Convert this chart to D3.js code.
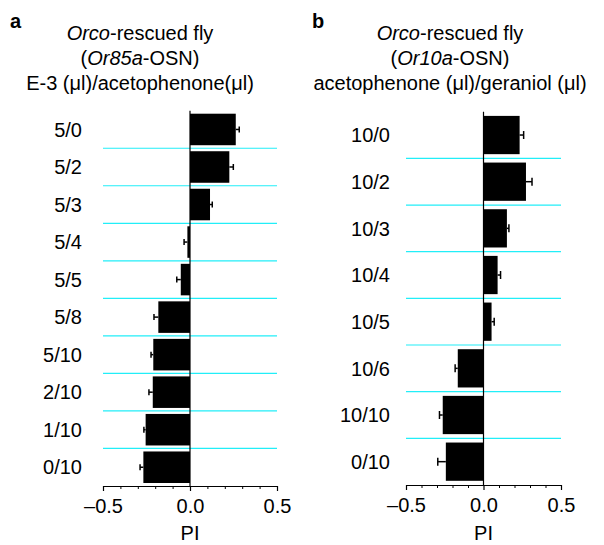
<!DOCTYPE html>
<html>
<head>
<meta charset="utf-8">
<script src="https://cdn.jsdelivr.net/npm/d3@7"></script>
<style>
  body { margin: 0; background: #fff; }
  svg { font-family: "Liberation Sans", Arial, Helvetica, sans-serif; }
</style>
</head>
<body>
<div id="container"></div>
<script>
// data
const catsA = ['5/0', '5/2', '5/3', '5/4', '5/5', '5/8', '5/10', '2/10', '1/10', '0/10'];
const piA = [0.263, 0.226, 0.115, -0.015, -0.053, -0.182, -0.211, -0.214, -0.255, -0.268];
const seA = [0.020, 0.023, 0.013, 0.019, 0.023, 0.025, 0.013, 0.022, 0.010, 0.019];

const catsB = ['10/0', '10/2', '10/3', '10/4', '10/5', '10/6', '10/10', '0/10'];
const piB = [0.233, 0.274, 0.151, 0.091, 0.052, -0.166, -0.263, -0.243];
const seB = [0.026, 0.039, 0.013, 0.019, 0.017, 0.017, 0.021, 0.052];

const xTicks = [-0.5, 0, 0.5];
const xMinor = [-0.4, -0.3, -0.2, -0.1, 0.1, 0.2, 0.3, 0.4];

const svg = d3.select('#container').append('svg')
    .attr('width', 604)
    .attr('height', 545);

//draw one panel
function drawPanel(p) {
    const x = d3.scaleLinear().domain([-0.5, 0.5]).range(p.xRange);
    const y = d3.scaleBand().domain(p.cats).range(p.yRange)
        .paddingInner(p.pad).paddingOuter(p.pad / 2);
    const g = svg.append('g');

    // panel letter
    g.append('text')
        .attr('x', p.letterX).attr('y', 28)
        .attr('font-size', 20).attr('font-weight', 'bold')
        .text(p.letter);

    // title
    p.title.forEach((line, i) => {
        const t = g.append('text')
            .attr('x', p.titleX).attr('y', 40 + i * 25)
            .attr('text-anchor', 'middle')
            .attr('font-size', p.titleSize);
        line.forEach(seg => {
            t.append('tspan')
                .attr('font-style', seg[1] ? 'italic' : 'normal')
                .text(seg[0]);
        });
    });

    // cyan separators
    g.selectAll('.sep')
        .data(p.cats.slice(1))
        .enter().append('line')
        .attr('x1', p.xRange[0]).attr('x2', p.xRange[1])
        .attr('y1', d => y(d) + y.bandwidth() / 2 - y.step() / 2)
        .attr('y2', d => y(d) + y.bandwidth() / 2 - y.step() / 2)
        .attr('stroke', '#22eef8')
        .attr('stroke-width', 1.2);

    const rows = p.cats.map((c, i) => ({ c: c, v: p.pi[i], se: p.se[i] }));

    // bars
    g.selectAll('.bar')
        .data(rows)
        .enter().append('rect')
        .attr('x', d => x(Math.min(0, d.v)))
        .attr('width', d => Math.abs(x(d.v) - x(0)))
        .attr('y', d => y(d.c))
        .attr('height', y.bandwidth())
        .attr('fill', '#000');

    // error bars (outward only)
    const eb = g.selectAll('.err')
        .data(rows)
        .enter().append('g');
    eb.append('line')
        .attr('x1', d => x(d.v))
        .attr('x2', d => x(d.v + Math.sign(d.v) * d.se))
        .attr('y1', d => y(d.c) + y.bandwidth() / 2)
        .attr('y2', d => y(d.c) + y.bandwidth() / 2)
        .attr('stroke', '#000').attr('stroke-width', 1.5);
    eb.append('line')
        .attr('x1', d => x(d.v + Math.sign(d.v) * d.se))
        .attr('x2', d => x(d.v + Math.sign(d.v) * d.se))
        .attr('y1', d => y(d.c) + y.bandwidth() / 2 - p.cap)
        .attr('y2', d => y(d.c) + y.bandwidth() / 2 + p.cap)
        .attr('stroke', '#000').attr('stroke-width', 1.5);

    // zero line
    g.append('line')
        .attr('x1', x(0)).attr('x2', x(0))
        .attr('y1', p.yRange[0]).attr('y2', p.yRange[1])
        .attr('stroke', '#000').attr('stroke-width', 1.2);

    // category labels
    g.selectAll('.cat')
        .data(p.cats)
        .enter().append('text')
        .attr('x', p.labelX)
        .attr('y', d => y(d) + y.bandwidth() / 2)
        .attr('dy', '0.36em')
        .attr('text-anchor', 'end')
        .attr('font-size', p.catSize)
        .text(d => d);

    // x axis
    const ax = g.append('g')
        .attr('transform', `translate(0,${p.yRange[1]})`)
        .call(d3.axisBottom(x)
            .tickValues(xTicks)
            .tickSize(5)
            .tickSizeOuter(0)
            .tickPadding(8)
            .tickFormat(d => d3.format('.1f')(d).replace('−', '–').replace('-', '–')));
    ax.select('.domain').attr('stroke-width', 1.2);
    ax.selectAll('.tick line').attr('stroke-width', 1.2);
    ax.selectAll('text')
        .attr('font-size', p.tickSize)
        .attr('font-family', '"Liberation Sans", Arial, sans-serif')
        .attr('fill', '#000');

    g.append('g')
        .attr('transform', `translate(0,${p.yRange[1]})`)
        .call(d3.axisBottom(x).tickValues(xMinor).tickSize(3).tickFormat(''))
        .call(s => s.select('.domain').remove());

    g.append('text')
        .attr('x', x(0)).attr('y', 540)
        .attr('text-anchor', 'middle')
        .attr('font-size', p.tickSize)
        .text('PI');
}

drawPanel({
    letter: 'a', letterX: 10, titleX: 140,
    title: [[['Orco', true], ['-rescued fly', false]],
            [['(', false], ['Or85a', true], ['-OSN)', false]],
            [['E-3 (μl)/acetophenone(μl)', false]]],
    cats: catsA, pi: piA, se: seA,
    xRange: [103, 277], yRange: [110.7, 486], pad: 0.16, cap: 3,
    labelX: 82, titleSize: 20, catSize: 20, tickSize: 20
});

drawPanel({
    letter: 'b', letterX: 312, titleX: 450,
    title: [[['Orco', true], ['-rescued fly', false]],
            [['(', false], ['Or10a', true], ['-OSN)', false]],
            [['acetophenone (μl)/geraniol (μl)', false]]],
    cats: catsB, pi: piB, se: seB,
    xRange: [406, 561], yRange: [111.7, 485], pad: 0.18, cap: 4,
    labelX: 390, titleSize: 20, catSize: 20, tickSize: 20
});
</script>
</body>
</html>
